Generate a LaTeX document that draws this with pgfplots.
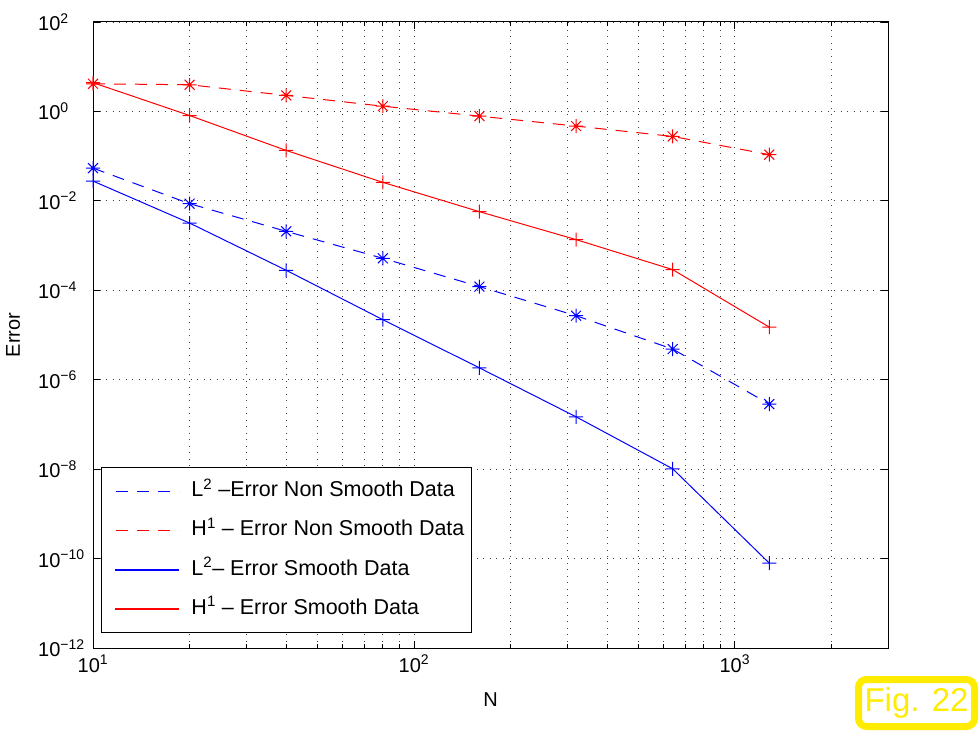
\documentclass[border=0pt]{standalone}
\usepackage{pgfplots}
\pgfplotsset{compat=1.18}
\usepackage{pgfplotstable}
\usepackage{fontspec}
\setmainfont{Liberation Sans}
\definecolor{figyellow}{RGB}{255,236,0}
\pgfdeclareplotmark{mstar}{%
  \pgfpathmoveto{\pgfqpoint{-\pgfplotmarksize}{0pt}}\pgfpathlineto{\pgfqpoint{\pgfplotmarksize}{0pt}}%
  \pgfpathmoveto{\pgfqpoint{0pt}{-\pgfplotmarksize}}\pgfpathlineto{\pgfqpoint{0pt}{\pgfplotmarksize}}%
  \pgfpathmoveto{\pgfqpoint{-.7071\pgfplotmarksize}{-.7071\pgfplotmarksize}}\pgfpathlineto{\pgfqpoint{.7071\pgfplotmarksize}{.7071\pgfplotmarksize}}%
  \pgfpathmoveto{\pgfqpoint{-.7071\pgfplotmarksize}{.7071\pgfplotmarksize}}\pgfpathlineto{\pgfqpoint{.7071\pgfplotmarksize}{-.7071\pgfplotmarksize}}%
  \pgfusepathqstroke}
\pgfdeclareplotmark{mplusf}{%
  \pgfpathrectangle{\pgfqpoint{-\pgfplotmarksize}{-0.5pt}}{\pgfqpoint{2\pgfplotmarksize}{1pt}}%
  \pgfpathrectangle{\pgfqpoint{-0.5pt}{-\pgfplotmarksize}}{\pgfqpoint{1pt}{2\pgfplotmarksize}}%
  \pgfusepathqfill}
\pgfplotstableread{
N L2ns H1ns L2s H1s
10 0.054 4.15 0.0277 4.4
20 0.00865 3.95 0.00319 0.81
40 0.00208 2.28 2.8e-4 0.134
80 5.19e-4 1.31 2.2e-5 0.0259
160 1.21e-4 0.785 1.84e-6 0.00573
320 2.7e-5 0.47 1.48e-7 0.00136
640 4.85e-6 0.276 1.02e-8 2.9e-4
1280 2.85e-7 0.108 7.9e-11 1.5e-5
}\datatable
\newcommand{\tp}[1]{10\textsuperscript{#1}}
\begin{document}
\begin{tikzpicture}
\useasboundingbox (-93pt,-83pt) rectangle (887pt,648pt);
\begin{axis}[
  at={(0pt,0pt)}, anchor=south west,
  scale only axis, width=795pt, height=626pt,
  xmode=log, ymode=log,
  xmin=10, xmax=3000, ymin=1e-12, ymax=1e2,
  xtick={10,100,1000},
  xticklabels={\tp{1},\tp{2},\tp{3}},
  minor xtick={20,30,40,50,60,70,80,90,200,300,400,500,600,700,800,900,2000,3000},
  ytick={1e-12,1e-10,1e-8,1e-6,1e-4,1e-2,1,1e2},
  yticklabels={\tp{−12},\tp{−10},\tp{−8},\tp{−6},\tp{−4},\tp{−2},\tp{0},\tp{2}},
  yminorticks=false,
  xmajorgrids, xminorgrids, ymajorgrids,
  major grid style={dash pattern=on 1pt off 5.5pt, black!75, line width=0.8pt},
  minor grid style={dash pattern=on 1pt off 5.5pt, black!75, line width=0.8pt},
  tick align=inside, xtick pos=both, ytick pos=both,
  major tick length=7pt, minor tick length=4pt,
  tick style={black, line width=0.8pt},
  axis line style={line width=1pt},
  tick label style={font=\fontsize{20}{24}\selectfont},
  xticklabel style={anchor=north, inner sep=0pt, yshift=-7pt},
  yticklabel style={anchor=west, inner sep=0pt, xshift=-55pt},
  label style={font=\fontsize{20}{24}\selectfont},
  xlabel={N},
  xlabel style={at={(axis description cs:0.5,0)}, anchor=center, yshift=-52pt},
  ylabel={Error},
  ylabel style={at={(axis description cs:-0.1006,0.5)}, anchor=center},
  clip=false,
  legend style={at={(rel axis cs:0.01006,0.02396)}, anchor=south west, line width=1pt,
    inner xsep=7pt, inner ysep=14pt, row sep=20.3pt, column sep=12pt,
    font=\fontsize{21.5}{25}\selectfont,
    nodes={inner sep=0pt, text height=15pt, text depth=4pt}},
  legend cell align=left,
]
\addplot[color=blue, line width=1pt, dash pattern=on 12pt off 9pt, forget plot] table[x=N, y=L2ns] {\datatable};
\addplot[color=red, line width=1pt, dash pattern=on 12pt off 9pt, forget plot] table[x=N, y=H1ns] {\datatable};
\addplot[color=blue, line width=1pt, forget plot] table[x=N, y=L2s] {\datatable};
\addplot[color=red, line width=1pt, forget plot] table[x=N, y=H1s] {\datatable};
\addplot[only marks, color=blue, line width=1pt, mark=mstar, mark size=7pt, mark options={solid, color=blue}, forget plot] table[x=N, y=L2ns] {\datatable};
\addplot[only marks, color=red, line width=1pt, mark=mstar, mark size=7pt, mark options={solid, color=red}, forget plot] table[x=N, y=H1ns] {\datatable};
\addplot[only marks, color=blue, mark=mplusf, mark size=7pt, mark options={color=blue, fill=blue}, forget plot] table[x=N, y=L2s] {\datatable};
\addplot[only marks, color=red, mark=mplusf, mark size=7pt, mark options={color=red, fill=red}, forget plot] table[x=N, y=H1s] {\datatable};
\addlegendimage{legend image code/.code={\path (0pt,0pt); \draw[color=blue, line width=1pt, dash pattern=on 12pt off 9pt] (7pt,0pt) -- (70pt,0pt);}}
\addlegendentry{L\textsuperscript{2} –Error Non Smooth Data}
\addlegendimage{legend image code/.code={\path (0pt,0pt); \draw[color=red, line width=1pt, dash pattern=on 12pt off 9pt] (7pt,0pt) -- (70pt,0pt);}}
\addlegendentry{H\textsuperscript{1} – Error Non Smooth Data}
\addlegendimage{legend image code/.code={\path (0pt,0pt); \fill[blue] (7pt,-0.5pt) rectangle (70pt,0.5pt);}}
\addlegendentry{L\textsuperscript{2}– Error Smooth Data}
\addlegendimage{legend image code/.code={\path (0pt,0pt); \fill[red] (7pt,-0.5pt) rectangle (70pt,0.5pt);}}
\addlegendentry{H\textsuperscript{1} – Error Smooth Data}
\end{axis}
\node[draw=figyellow, line width=7pt, rounded corners=8pt, fill=white, text=figyellow,
  font=\fontsize{33}{36}\selectfont, minimum width=116pt, minimum height=47pt, inner sep=0pt]
  at (823.5pt,-55pt) {Fig. 22};
\end{tikzpicture}
\end{document}
